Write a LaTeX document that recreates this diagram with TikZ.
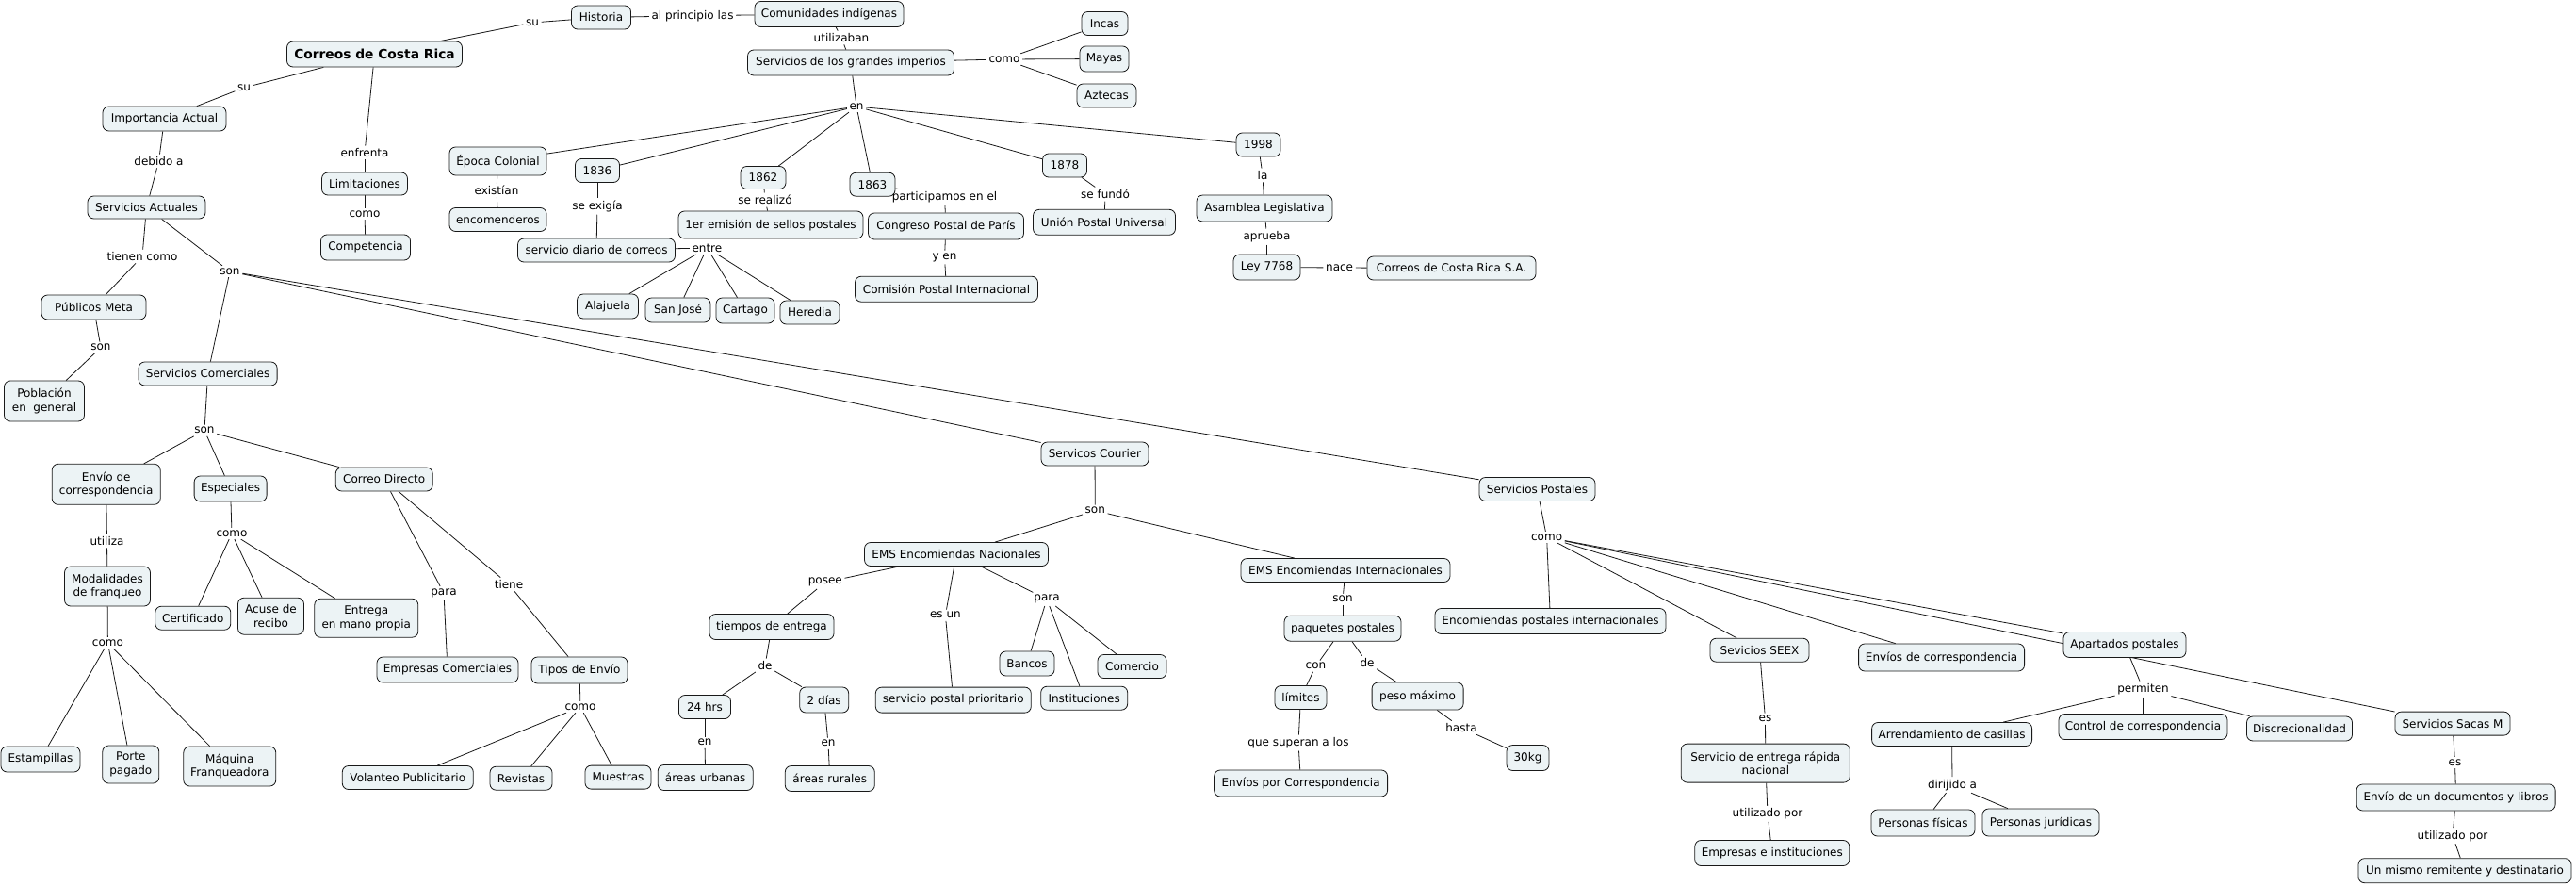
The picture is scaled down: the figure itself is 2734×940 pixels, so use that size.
\documentclass[tikz,border=0pt]{standalone}
\usepackage{fontspec}
\setmainfont{DejaVu Sans}
\usetikzlibrary{backgrounds}
\definecolor{cfill}{RGB}{236,243,245}
\definecolor{cline}{RGB}{25,25,25}
\begin{document}
\begin{tikzpicture}[x=1pt,y=-1pt,
  concept/.style={draw=cline, rounded corners=6.5pt, fill=cfill, line width=0.8pt,
    inner xsep=3pt, inner ysep=2pt, align=center,
    font=\fontsize{12}{14.5}\selectfont},
  lbl/.style={inner sep=2.5pt, font=\fontsize{12}{14}\selectfont},
  conn/.style={draw=cline, line width=0.8pt}]
\useasboundingbox (0,0) rectangle (2734,940);
% concepts
\newcommand{\cn}[6]{\node[concept, minimum width=#4pt, minimum height=#5pt] (#1) at (#2,#3) {#6};}
\node[concept, minimum width=186pt, minimum height=27pt, font=\fontsize{13.8}{16}\bfseries\selectfont] (main) at (397.5,57.5) {Correos de Costa Rica};
\cn{hist}{638}{18.5}{63}{25}{Historia}
\cn{com}{880}{15}{158}{27}{Comunidades indígenas}
\cn{imp}{903}{66.5}{219}{27}{Servicios de los grandes imperios}
\cn{incas}{1172.5}{25}{49}{25}{Incas}
\cn{mayas}{1172}{62.5}{52}{27}{Mayas}
\cn{aztecas}{1174.5}{101.5}{63}{25}{Aztecas}
\cn{colonial}{528.5}{171}{103}{30}{Época Colonial}
\cn{encom}{528.5}{233}{103}{25}{encomenderos}
\cn{y1836}{634}{181}{47}{25}{1836}
\cn{diario}{633}{265.5}{167}{25}{servicio diario de correos}
\cn{y1862}{810}{188.5}{48}{24}{1862}
\cn{emision}{818}{238.5}{196}{29}{1er emisión de sellos postales}
\cn{y1863}{926}{195.7}{48}{25}{1863}
\cn{congreso}{1004}{240}{165}{28}{Congreso Postal de París}
\cn{comision}{1004.5}{306.7}{194}{27}{Comisión Postal Internacional}
\cn{y1878}{1130}{175.5}{47}{25}{1878}
\cn{union}{1172}{235.8}{151}{27}{Unión Postal Universal}
\cn{y1998}{1335.5}{153.5}{47}{25}{1998}
\cn{asamblea}{1342}{221}{144}{28}{Asamblea Legislativa}
\cn{ley}{1344.5}{283.5}{71}{27}{Ley 7768}
\cn{sa}{1540.5}{284.5}{179}{25}{Correos de Costa Rica S.A.}
\cn{alajuela}{645}{325}{65}{26}{Alajuela}
\cn{sanjose}{719.5}{329}{69}{26}{San José}
\cn{cartago}{791}{329.5}{62}{27}{Cartago}
\cn{heredia}{859.5}{331.5}{63}{25}{Heredia}
\cn{importancia}{174.5}{126}{131}{26}{Importancia Actual}
\cn{actuales}{155.5}{220}{125}{24}{Servicios Actuales}
\cn{limit}{387}{195}{91}{24}{Limitaciones}
\cn{compet}{388}{262.5}{95}{27}{Competencia}
\cn{publicos}{99.5}{326}{111}{26}{Públicos Meta}
\cn{poblacion}{47}{425.5}{85}{43}{Población\\en~~general}
\cn{comerciales}{220.6}{396.5}{147}{25}{Servicios Comerciales}
\cn{envio}{112.7}{513.8}{115}{43}{Envío de\\correspondencia}
\cn{especiales}{244.6}{518.5}{77}{27}{Especiales}
\cn{directo}{407.7}{508.5}{103}{25}{Correo Directo}
\cn{modal}{114}{622}{91}{42}{Modalidades\\de franqueo}
\cn{certif}{204.8}{655.7}{80}{25}{Certificado}
\cn{acuse}{287.5}{653.7}{70}{39}{Acuse de\\recibo}
\cn{entrega}{388.8}{655.7}{110}{41}{Entrega\\en mano propia}
\cn{empresas}{475}{710.5}{150}{27}{Empresas Comerciales}
\cn{tipos}{615}{711}{102}{28}{Tipos de Envío}
\cn{estamp}{43}{805.5}{84}{27}{Estampillas}
\cn{porte}{138.8}{811}{60}{40}{Porte\\pagado}
\cn{maquina}{243.8}{813}{98}{42}{Máquina\\Franqueadora}
\cn{volanteo}{432.8}{825}{139}{25}{Volanteo Publicitario}
\cn{revistas}{553}{825.7}{66}{25}{Revistas}
\cn{muestras}{656}{824.6}{70}{25}{Muestras}
\cn{courier}{1162}{481.5}{114}{25}{Servicos Courier}
\cn{emsnac}{1015}{588}{195}{25}{EMS Encomiendas Nacionales}
\cn{emsint}{1428}{605}{222}{25}{EMS Encomiendas Internacionales}
\cn{postales}{1631.5}{519}{123}{25}{Servicios Postales}
\cn{tiempos}{819}{665}{132}{27}{tiempos de entrega}
\cn{h24}{748}{750}{55}{25}{24 hrs}
\cn{dias}{874.7}{742.5}{52}{27}{2 días}
\cn{urbanas}{748.7}{825}{101}{27}{áreas urbanas}
\cn{rurales}{880.8}{826}{95}{27}{áreas rurales}
\cn{priorit}{1011.8}{742.6}{165}{27}{servicio postal prioritario}
\cn{bancos}{1090}{704}{58}{26}{Bancos}
\cn{comercio}{1201.5}{707}{73}{25}{Comercio}
\cn{instit}{1150.7}{740.7}{92}{25}{Instituciones}
\cn{paquetes}{1425}{666.7}{124}{27}{paquetes postales}
\cn{limites}{1380.5}{740}{55}{25}{límites}
\cn{peso}{1504.6}{738.5}{97}{29}{peso máximo}
\cn{kg}{1621.5}{804}{45}{27}{30kg}
\cn{envcorr}{1380.6}{831}{184}{28}{Envíos por Correspondencia}
\cn{encpost}{1645.5}{659}{245}{27}{Encomiendas postales internacionales}
\cn{seex}{1867.5}{689.7}{105}{25}{Sevicios SEEX}
\cn{rapida}{1873.8}{809.6}{179}{41}{Servicio de entrega rápida\\nacional}
\cn{empinst}{1880.8}{905}{164}{27}{Empresas e instituciones}
\cn{envios}{2060.6}{697.5}{176}{29}{Envíos de correspondencia}
\cn{apart}{2255}{684}{130}{27}{Apartados postales}
\cn{arrend}{2071.6}{779}{170}{25}{Arrendamiento de casillas}
\cn{control}{2274.5}{771}{179}{27}{Control de correspondencia}
\cn{discrec}{2440.5}{773}{112}{26}{Discrecionalidad}
\cn{sacas}{2603}{767.6}{122}{25}{Servicios Sacas M}
\cn{fisicas}{2041}{873}{110}{28}{Personas físicas}
\cn{juridicas}{2166}{872.5}{124}{29}{Personas jurídicas}
\cn{documentos}{2606.6}{846}{211}{28}{Envío de un documentos y libros}
\cn{mismo}{2616}{923.7}{226}{26}{Un mismo remitente y destinatario}
% linking phrases
\newcommand{\lb}[4]{\node[lbl] (#1) at (#2,#3) {#4};}
\lb{lsua}{565}{24}{su}
\lb{lalprin}{735}{16.7}{al principio las}
\lb{lutil}{893}{40}{utilizaban}
\lb{lcomoa}{1066}{63}{como}
\lb{len}{909}{113}{en}
\lb{lexist}{527}{202}{existían}
\lb{lexig}{634}{219}{se exigía}
\lb{lentre}{750.4}{263}{entre}
\lb{lrealizo}{812}{212}{se realizó}
\lb{lpartic}{1002.5}{209}{participamos en el}
\lb{lyen}{1002.5}{273}{y en}
\lb{lfundo}{1173}{206}{se fundó}
\lb{lla}{1340}{186}{la}
\lb{laprueba}{1344.5}{251}{aprueba}
\lb{lnace}{1421.6}{284}{nace}
\lb{lsub}{259}{93}{su}
\lb{ldebido}{168.5}{171}{debido a}
\lb{lenfrenta}{387}{162}{enfrenta}
\lb{lcomob}{387}{227}{como}
\lb{ltienen}{151}{272}{tienen como}
\lb{lsona}{244}{288}{son}
\lb{lsonb}{107}{368.7}{son}
\lb{lsonc}{217}{456.7}{son}
\lb{lutiliza}{113.5}{574}{utiliza}
\lb{lcomoc}{246}{566}{como}
\lb{lparaa}{471}{629.3}{para}
\lb{ltiene}{540}{620}{tiene}
\lb{lcomod}{114.4}{682}{como}
\lb{lcomoe}{616}{750}{como}
\lb{lsond}{1162.3}{541.7}{son}
\lb{lposee}{875.8}{617.7}{posee}
\lb{lesun}{1003.4}{652.7}{es un}
\lb{lparab}{1111}{635.7}{para}
\lb{ldea}{812}{706}{de}
\lb{lena}{748}{787.7}{en}
\lb{lenb}{879}{788.7}{en}
\lb{lsone}{1425}{635.7}{son}
\lb{lcon}{1396.5}{706.7}{con}
\lb{ldeb}{1451}{703}{de}
\lb{lhasta}{1551}{772}{hasta}
\lb{lsuperan}{1378}{788}{que superan a los}
\lb{lcomof}{1641.6}{570}{como}
\lb{lesa}{1873.5}{762.7}{es}
\lb{lutilb}{1876}{863.3}{utilizado por}
\lb{lpermiten}{2274.5}{731}{permiten}
\lb{ldirijido}{2072}{832.7}{dirijido a}
\lb{lesb}{2605.5}{809}{es}
\lb{lutilc}{2603}{886.7}{utilizado por}
% connectors
\begin{pgfonlayer}{background}
\foreach \a/\b in {main/lsua, lsua/hist, hist/lalprin, lalprin/com, com/lutil, lutil/imp,
  imp/lcomoa, lcomoa/incas, lcomoa/mayas, lcomoa/aztecas, imp/len, len/colonial, len/y1836,
  len/y1862, len/y1863, len/y1878, len/y1998, colonial/lexist, lexist/encom, y1836/lexig,
  lexig/diario, diario/lentre, lentre/alajuela, lentre/sanjose, lentre/cartago, lentre/heredia,
  y1862/lrealizo, lrealizo/emision, y1863/lpartic, lpartic/congreso, congreso/lyen, lyen/comision,
  y1878/lfundo, lfundo/union, y1998/lla, lla/asamblea, asamblea/laprueba, laprueba/ley,
  ley/lnace, lnace/sa,
  main/lsub, lsub/importancia, importancia/ldebido, ldebido/actuales, main/lenfrenta,
  lenfrenta/limit, limit/lcomob, lcomob/compet, actuales/ltienen, ltienen/publicos,
  publicos/lsonb, lsonb/poblacion, actuales/lsona, lsona/comerciales, lsona/courier,
  lsona/postales, comerciales/lsonc, lsonc/envio, lsonc/especiales, lsonc/directo,
  envio/lutiliza, lutiliza/modal, modal/lcomod, lcomod/estamp, lcomod/porte, lcomod/maquina,
  especiales/lcomoc, lcomoc/certif, lcomoc/acuse, lcomoc/entrega, directo/lparaa,
  lparaa/empresas, directo/ltiene, ltiene/tipos, tipos/lcomoe, lcomoe/volanteo,
  lcomoe/revistas, lcomoe/muestras, courier/lsond, lsond/emsnac, lsond/emsint,
  emsnac/lposee, lposee/tiempos, tiempos/ldea, ldea/h24, ldea/dias, h24/lena, lena/urbanas,
  dias/lenb, lenb/rurales, emsnac/lesun, lesun/priorit, emsnac/lparab, lparab/bancos,
  lparab/instit, lparab/comercio, emsint/lsone, lsone/paquetes, paquetes/lcon, lcon/limites,
  limites/lsuperan, lsuperan/envcorr, paquetes/ldeb, ldeb/peso, peso/lhasta, lhasta/kg,
  postales/lcomof, lcomof/encpost, lcomof/seex, lcomof/envios, lcomof/apart, lcomof/sacas,
  seex/lesa, lesa/rapida, rapida/lutilb, lutilb/empinst, apart/lpermiten, lpermiten/arrend,
  lpermiten/control, lpermiten/discrec, arrend/ldirijido, ldirijido/fisicas,
  ldirijido/juridicas, sacas/lesb, lesb/documentos, documentos/lutilc, lutilc/mismo}
  \draw[conn] (\a) -- (\b);
\end{pgfonlayer}
\end{tikzpicture}
\end{document}
